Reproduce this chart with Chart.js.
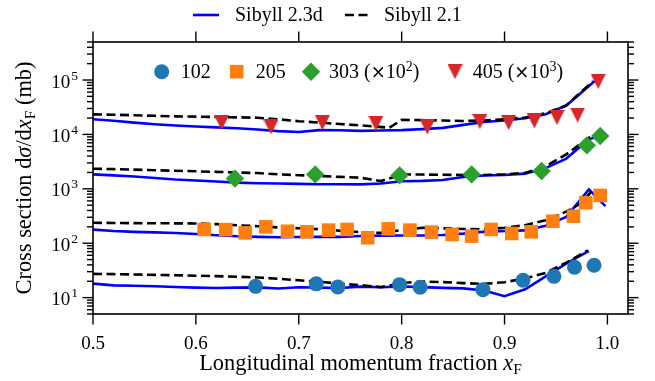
<!DOCTYPE html>
<html>
<head>
<meta charset="UTF-8">
<title>Sibyll xF spectra</title>
<script src="https://cdn.jsdelivr.net/npm/chart.js@4"></script>
<style>
  html, body { margin:0; padding:0; background:#fff; }
  #wrap { width:655px; height:381px; }
</style>
</head>
<body>
<div id="wrap"><canvas id="cv" width="655" height="381"></canvas></div>
<script>
// beam momenta and the factor each spectrum is multiplied by
const beams  = ["102", "205", "303", "405"];
const factor = [1, 1, 100, 1000];

// common xF grid of the model curves
const xStd = [0.50,0.52,0.54,0.56,0.58,0.60,0.62,0.64,0.66,0.68,0.70,0.72,0.74,0.76,0.78,0.80,0.82,0.84,0.86,0.88,0.90,0.92,0.94,0.96];

// Sibyll 2.3d (mb)
const x23_102 = xStd.concat([0.982]);
const y23_102 = [18.1,16.8,16.5,16.2,15.7,15.3,15.0,15.3,15.4,14.7,15.5,15.3,15.0,15.9,15.5,16.0,15.6,15.1,14.8,13.5,10.6,14.2,24.5,42,72];
const x23_205 = xStd.concat([0.982, 0.998]);
const y23_205 = [178,168,162,158,154,148,140,134,131,129,130,131,131,136,138,139,139,142,150,162,168,172,210,305,975,480];
const x23_303 = xStd.concat([0.982, 0.995]);
const y23_303 = [18.4,17.7,16.9,15.8,14.8,14.2,13.6,13.0,12.7,12.5,12.35,12.15,12.1,12.05,12.5,13.8,14.0,14.5,16.5,17.6,18.0,19.0,24.0,36.0,81.3,97];
const x23_405 = xStd.concat([0.986, 0.996]);
const y23_405 = [19.0,17.8,16.5,15.4,14.6,14.0,13.5,13.0,12.3,11.5,11.1,12.0,11.9,11.6,11.8,12.0,12.5,13.2,15.0,16.9,18.0,19.8,23.5,34,90,119];

// Sibyll 2.1 (mb)
const x21_102 = xStd.concat([0.981]);
const y21_102 = [27.3,27.0,26.6,26.2,25.8,25.3,24.8,24.2,23.5,22.2,20.8,19.6,18.0,17.0,15.6,18.5,19.8,19.3,18.5,17.9,19.2,22.5,28.5,44,73.5];
const x21_205 = xStd.concat([0.974, 0.984, 0.992]);
const y21_205 = [238,236,234,233,232,231,224,214,205,195,188,181,170,160,155,175,192,188,183,180,192,215,265,380,537,870,760];
const x21_303 = xStd.concat([0.982, 0.992]);
const y21_303 = [23.4,23.0,22.5,22.0,21.5,21.0,20.5,20.0,19.5,18.5,17.8,17.2,16.6,16.0,13.9,18.4,18.3,18.1,18.0,18.0,18.5,19.5,26.2,43.0,87.3,95];
const x21_405 = [0.50,0.52,0.54,0.56,0.58,0.60,0.62,0.64,0.66,0.68,0.70,0.72,0.74,0.76,0.788,0.80,0.82,0.84,0.86,0.88,0.90,0.92,0.94,0.96,0.986];
const y21_405 = [23.4,23.0,22.5,22.0,21.5,21.2,20.9,20.6,20.3,19.0,17.5,16.5,15.5,14.7,13.3,18.5,18.3,18.0,17.7,18.0,18.9,20.5,24.5,34.0,95.5];

// measured spectra (mb)
const x102 = [0.658,0.717,0.738,0.798,0.818,0.879,0.918,0.948,0.968,0.987];
const y102 = [16.1,17.9,15.7,17.3,15.5,14.0,20.8,24.6,36.1,39.4];
const x205 = [0.608,0.629,0.648,0.668,0.689,0.708,0.729,0.747,0.767,0.787,0.808,0.829,0.849,0.868,0.887,0.907,0.926,0.947,0.967,0.979,0.993];
const y205 = [179,178,155,200,166,162,174,179,126,184,174,160,145,135,179,151,162,254,314,555,755];
const x303 = [0.638,0.716,0.798,0.868,0.936,0.980,0.993];
const y303 = [15.4,18.4,17.7,18.4,21.2,63,93.5];
const x405 = [0.625,0.673,0.723,0.775,0.825,0.876,0.904,0.929,0.951,0.971,0.991];
const y405 = [16.5,13.7,16.5,16.0,13.7,17.2,16.5,17.7,20.4,22.7,93.7];

// axes
const xTicks = [0.5, 0.6, 0.7, 0.8, 0.9, 1.0];
const yDecades = [1, 2, 3, 4, 5];
const xMin = 0.5, xMax = 1.02, yMin = 5, yMax = 5e5;

const SERIF = '"Liberation Serif", "Times New Roman", serif';
const R = s => `${s}px ${SERIF}`;
const I = s => `italic ${s}px ${SERIF}`;
const TIMES_SIGN = s => `${s}px "DejaVu Serif", serif`;
const colors = ["#1f77b4", "#ff7f0e", "#2ca02c", "#d62728"];

// matplotlib-like down triangle
function triMarker(size, color) {
  const c = document.createElement("canvas");
  c.width = size; c.height = size;
  const g = c.getContext("2d");
  g.fillStyle = color;
  g.beginPath(); g.moveTo(0, 0); g.lineTo(size, 0); g.lineTo(size / 2, size); g.closePath(); g.fill();
  return c;
}
const tri = triMarker(15, colors[3]);
const markers = [
  { pointStyle: "circle", radius: 7.5 },
  { pointStyle: "rect", radius: 9.6 },
  { pointStyle: "rectRot", radius: 9.2 },
  { pointStyle: tri, radius: 7.5 }
];

const pts = (xs, ys, f) => xs.map((x, i) => ({ x, y: ys[i] * f }));

const curves23 = [[x23_102, y23_102], [x23_205, y23_205], [x23_303, y23_303], [x23_405, y23_405]];
const curves21 = [[x21_102, y21_102], [x21_205, y21_205], [x21_303, y21_303], [x21_405, y21_405]];
const meas = [[x102, y102], [x205, y205], [x303, y303], [x405, y405]];

const datasets = [];
beams.forEach((b, i) => {
  datasets.push({
    label: "Sibyll 2.3d " + b, data: pts(curves23[i][0], curves23[i][1], factor[i]),
    borderColor: "#0000ff", borderWidth: 2.6, pointRadius: 0, tension: 0, order: 2
  });
  datasets.push({
    label: "Sibyll 2.1 " + b, data: pts(curves21[i][0], curves21[i][1], factor[i]),
    borderColor: "#000", borderWidth: 2.6, borderDash: [9, 4.5], pointRadius: 0, tension: 0, order: 1
  });
  datasets.push({
    label: b, data: pts(meas[i][0], meas[i][1], factor[i]), showLine: false, order: 0,
    pointStyle: markers[i].pointStyle, pointRadius: markers[i].radius,
    backgroundColor: colors[i], borderColor: colors[i], borderWidth: 0
  });
});

function richWidth(ctx, parts) {
  let w = 0;
  parts.forEach(p => { ctx.font = p.f; w += ctx.measureText(p.t).width; });
  return w;
}
function drawRich(ctx, parts, x, y) {
  ctx.textAlign = "left";
  parts.forEach(p => {
    ctx.font = p.f;
    ctx.fillText(p.t, x, y + (p.dy || 0));
    x += ctx.measureText(p.t).width;
  });
}

const frame = {
  id: "frame",
  afterDraw(chart) {
    const { ctx, chartArea: a, scales: { x, y } } = chart;
    ctx.save();
    ctx.strokeStyle = "#000"; ctx.fillStyle = "#000";
    ctx.lineWidth = 1.4;
    const seg = (x1, y1, x2, y2) => { ctx.beginPath(); ctx.moveTo(x1, y1); ctx.lineTo(x2, y2); ctx.stroke(); };

    // x ticks, top and bottom
    xTicks.forEach(v => {
      const px = x.getPixelForValue(v);
      seg(px, a.bottom, px, a.bottom + 10.5);
      seg(px, a.top, px, a.top - 10.5);
    });
    // log ticks, left and right
    for (let e = 0; e <= 5; e++) {
      for (let m = 1; m <= 9; m++) {
        const v = m * Math.pow(10, e);
        if (v < yMin || v > yMax) continue;
        const py = y.getPixelForValue(v);
        const L = m === 1 ? 10.5 : 6;
        seg(a.left - L, py, a.left, py);
        seg(a.right, py, a.right + L, py);
      }
    }
    ctx.lineWidth = 1.6;
    ctx.strokeRect(a.left, a.top, a.width, a.height);

    // tick labels
    ctx.textBaseline = "alphabetic";
    ctx.textAlign = "center";
    ctx.font = R(19);
    xTicks.forEach(v => ctx.fillText(v.toFixed(1), x.getPixelForValue(v), a.bottom + 34.5));
    yDecades.forEach(e => {
      const py = y.getPixelForValue(Math.pow(10, e));
      ctx.font = R(13.5);
      const we = ctx.measureText(String(e)).width;
      ctx.textAlign = "left";
      ctx.fillText(String(e), a.left - 15 - we, py - 0.5);
      ctx.font = R(19);
      ctx.textAlign = "right";
      ctx.fillText("10", a.left - 16 - we, py + 7.5);
    });

    // x title
    const xt = [{ t: "Longitudinal momentum fraction ", f: R(22.4) }, { t: "x", f: I(22.4) }, { t: "F", f: R(15.5), dy: 4 }];
    drawRich(ctx, xt, (a.left + a.right) / 2 - richWidth(ctx, xt) / 2, 370);

    // y title
    const yt = [{ t: "Cross section d", f: R(22.4) }, { t: "σ", f: I(22.4) }, { t: "/d", f: R(22.4) },
                { t: "x", f: I(22.4) }, { t: "F", f: R(15.5), dy: 4 }, { t: " (mb)", f: R(22.4) }];
    ctx.save();
    ctx.translate(31, (a.top + a.bottom) / 2);
    ctx.rotate(-Math.PI / 2);
    drawRich(ctx, yt, -richWidth(ctx, yt) / 2, 0);
    ctx.restore();

    // model legend above the frame
    ctx.lineWidth = 2.6;
    ctx.strokeStyle = "#0000ff";
    seg(193, 15, 219, 15);
    ctx.strokeStyle = "#000";
    ctx.setLineDash([9, 4.5]);
    seg(345, 15, 371, 15);
    ctx.setLineDash([]);
    ctx.font = R(20);
    ctx.textAlign = "left";
    ctx.fillText("Sibyll 2.3d", 235, 21);
    ctx.fillText("Sibyll 2.1", 384, 21);

    // data legend inside the frame
    const scaled = (n, p) => [{ t: n + " (", f: R(20) }, { t: "×", f: TIMES_SIGN(18) }, { t: "10", f: R(20) },
                              { t: p, f: R(14), dy: -7.5 }, { t: ")", f: R(20) }];
    const items = [
      { mx: 161.7, tx: 180.7, parts: [{ t: "102", f: R(20) }] },
      { mx: 236.7, tx: 255.7, parts: [{ t: "205", f: R(20) }] },
      { mx: 311, tx: 329, parts: scaled("303", "2") },
      { mx: 455, tx: 472.7, parts: scaled("405", "3") }
    ];
    items.forEach((it, i) => {
      ctx.fillStyle = colors[i];
      Chart.helpers.drawPoint(ctx, { pointStyle: markers[i].pointStyle, radius: markers[i].radius, rotation: 0, borderWidth: 0 }, it.mx, 71.7);
      ctx.fillStyle = "#000";
      drawRich(ctx, it.parts, it.tx, 78.3);
    });
    ctx.restore();
  }
};

new Chart(document.getElementById("cv"), {
  type: "line",
  data: { datasets },
  options: {
    responsive: false,
    animation: false,
    layout: { padding: { top: 42, right: 27, left: 0, bottom: 0 } },
    plugins: { legend: { display: false }, tooltip: { enabled: false } },
    scales: {
      x: {
        type: "linear", min: xMin, max: xMax,
        grid: { display: false, drawTicks: false }, border: { display: false },
        ticks: { display: false },
        afterFit: s => { s.height = 67; }
      },
      y: {
        type: "logarithmic", min: yMin, max: yMax,
        grid: { display: false, drawTicks: false }, border: { display: false },
        ticks: { display: false },
        afterFit: s => { s.width = 93; }
      }
    }
  },
  plugins: [frame]
});
</script>
</body>
</html>
